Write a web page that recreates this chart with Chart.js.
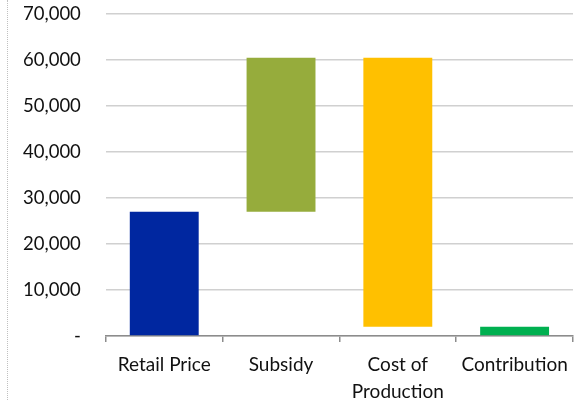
<!DOCTYPE html>
<html>
<head>
<meta charset="utf-8">
<script src="https://cdn.jsdelivr.net/npm/chart.js@4/dist/chart.umd.min.js"></script>
<style>
  html, body { margin: 0; padding: 0; background: #fff; overflow: hidden; }
  #wrap { position: relative; width: 580px; height: 400px; }
  #edge { position: absolute; left: 7px; top: 0; height: 400px; border-left: 1px dotted #c0c0c0; }
  canvas { position: absolute; left: 0; top: 0; }
</style>
</head>
<body>
<div id="wrap">
  <div id="edge"></div>
  <canvas id="waterfall" width="580" height="400"></canvas>
</div>
<script>
// waterfall data
const categories = ['Retail Price', 'Subsidy', ['Cost of', 'Production'], 'Contribution'];
const barStart = [0, 27000, 2000, 0];
const barEnd = [27000, 60500, 60500, 2000];
const barColors = ['#0027A0', '#96AC3C', '#FFC000', '#00B050'];
const yTicks = [0, 10000, 20000, 30000, 40000, 50000, 60000, 70000];

const ctx = document.getElementById('waterfall').getContext('2d');
new Chart(ctx, {
  type: 'bar',
  data: {
    labels: categories,
    datasets: [{
      data: barStart.map((s, i) => [s, barEnd[i]]),
      backgroundColor: barColors,
      borderWidth: 0,
      barPercentage: 0.59,
      categoryPercentage: 1
    }]
  },
  options: {
    responsive: false,
    animation: false,
    layout: {
      padding: { left: 20, right: 7, top: 0, bottom: 0 }
    },
    plugins: {
      legend: { display: false },
      tooltip: { enabled: false }
    },
    scales: {
      x: {
        grid: {
          offset: true,
          drawOnChartArea: false,
          color: '#8c8c8c',
          lineWidth: 1.5,
          tickLength: 6
        },
        border: { color: '#8c8c8c', width: 1.5 },
        ticks: {
          color: '#111',
          padding: 9,
          maxRotation: 0,
          font: { family: 'Lato', size: 19, lineHeight: 1.42 }
        },
        afterFit: (scale) => { scale.height = 64; }
      },
      y: {
        min: 0,
        max: 70000,
        afterBuildTicks: (scale) => { scale.ticks = yTicks.map(v => ({ value: v })); },
        // keep the gap between labels and grid as an invisible tick
        grid: { color: '#d0d0d0', lineWidth: 1.5, tickLength: 22, tickColor: 'rgba(0,0,0,0)' },
        border: { display: false },
        ticks: {
          color: '#111',
          padding: 3,
          font: { family: 'Lato', size: 18.5 },
          callback: (v) => v === 0 ? '-' : v.toLocaleString('en-US')
        }
      }
    }
  }
});
</script>
</body>
</html>
